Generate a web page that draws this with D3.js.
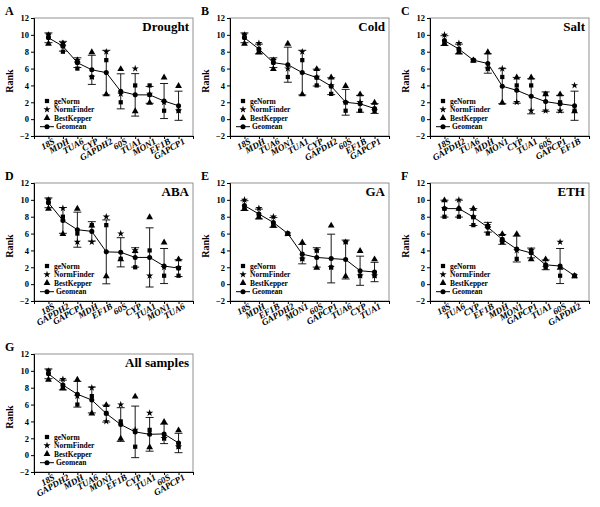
<!DOCTYPE html>
<html>
<head>
<meta charset="utf-8">
<script src="https://cdn.jsdelivr.net/npm/d3@7"></script>
<style>
  body { margin: 0; background: #fff; }
  svg { display: block; }
  text { font-family: "Liberation Serif", "Times New Roman", serif; font-weight: bold; fill: #000; }
</style>
</head>
<body>
<div id="chart"></div>
<script>
// rank values (10 = most stable)
const droughtGenes = ["18S", "MDH", "TUA6", "CYP", "GAPDH2", "60S", "TUA1", "MON1", "EF1B", "GAPCP1"];
const droughtGeNorm = [10, 8, 6, 5, 7, 2, 4, 4, 1, 1];
const droughtNormFinder = [10, 9, 7, 5, 8, 3, 6, 3, 2, 1];
const droughtBestKeeper = [9, 9, 7, 8, 3, 6, 1, 2, 5, 4];
const droughtGeomean = [9.65, 8.65, 6.7, 5.85, 5.52, 3.3, 2.88, 2.88, 2.15, 1.59];
const droughtSD = [0.58, 0.58, 0.58, 1.73, 2.65, 2.08, 2.52, 1.0, 2.08, 1.73];

const coldGenes = ["18S", "MDH", "TUA6", "MON1", "TUA1", "CYP", "GAPDH2", "60S", "EF1B", "GAPCP1"];
const coldGeNorm = [10, 8, 7, 5, 7, 4, 3, 1, 1, 1];
const coldNormFinder = [10, 9, 7, 6, 8, 5, 4, 2, 2, 1];
const coldBestKeeper = [9, 8, 6, 9, 3, 6, 5, 4, 3, 2];
const coldGeomean = [9.65, 8.32, 6.7, 6.46, 5.52, 4.93, 3.91, 2.0, 1.82, 1.26];
const coldSD = [0.58, 0.58, 0.58, 2.08, 2.65, 1.0, 1.0, 1.53, 1.0, 0.58];

const saltGenes = ["18S", "GAPDH2", "TUA6", "MDH", "MON1", "CYP", "TUA1", "60S", "GAPCP1", "EF1B"];
const saltGeNorm = [9, 8, 7, 6, 5, 4, 4, 3, 2, 1];
const saltNormFinder = [10, 9, 7, 6, 6, 2, 1, 1, 1, 4];
const saltBestKeeper = [9, 8, 7, 8, 2, 5, 5, 3, 3, 1];
const saltGeomean = [9.32, 8.32, 7.0, 6.6, 3.91, 3.42, 2.71, 2.08, 1.82, 1.59];
const saltSD = [0.58, 0.58, 0, 1.15, 2.08, 1.53, 2.08, 1.15, 1.0, 1.73];

const abaGenes = ["18S", "GAPDH2", "GAPCP1", "MDH", "EF1B", "60S", "CYP", "TUA1", "MON1", "TUA6"];
const abaGeNorm = [10, 8, 6, 7, 7, 3, 2, 4, 1, 1];
const abaNormFinder = [10, 9, 5, 5, 8, 6, 4, 1, 2, 2];
const abaBestKeeper = [9, 6, 9, 7, 1, 3, 4, 8, 5, 3];
const abaGeomean = [9.65, 7.56, 6.46, 6.26, 3.83, 3.78, 3.17, 3.17, 2.15, 1.9];
const abaSD = [0.58, 1.53, 2.08, 1.15, 3.79, 1.73, 1.15, 3.51, 2.08, 1.0];

const gaGenes = ["18S", "MDH", "EF1B", "GAPDH2", "MON1", "60S", "GAPCP1", "TUA6", "CYP", "TUA1"];
const gaGeNorm = [9, 8, 7, 6, 3, 4, 2, 5, 1, 1];
const gaNormFinder = [10, 9, 8, 6, 3, 4, 2, 5, 1, 1];
const gaBestKeeper = [9, 8, 7, 6, 5, 2, 7, 1, 4, 3];
const gaGeomean = [9.32, 8.32, 7.32, 6.0, 3.56, 3.17, 3.04, 2.92, 1.59, 1.44];
const gaSD = [0.58, 0.58, 0.58, 0, 1.15, 1.15, 2.89, 2.31, 1.73, 1.15];

const ethGenes = ["18S", "TUA6", "CYP", "EF1B", "MDH", "MON1", "GAPCP1", "TUA1", "60S", "GAPDH2"];
const ethGeNorm = [8, 8, 7, 6, 5, 3, 4, 2, 1, 1];
const ethNormFinder = [9, 10, 8, 7, 5, 4, 4, 2, 5, 1];
const ethBestKeeper = [10, 9, 9, 7, 6, 6, 3, 3, 2, 1];
const ethGeomean = [8.96, 8.96, 7.96, 6.75, 5.31, 4.16, 3.7, 2.29, 2.15, 1.0];
const ethSD = [1.0, 1.0, 1.0, 0.58, 0.58, 1.53, 0.58, 0.58, 2.08, 0];

const allGenes = ["18S", "GAPDH2", "MDH", "TUA6", "MON1", "EF1B", "CYP", "TUA1", "60S", "GAPCP1"];
const allGeNorm = [10, 8, 6, 7, 5, 4, 1, 3, 2, 1];
const allNormFinder = [10, 9, 7, 8, 4, 6, 3, 5, 2, 1];
const allBestKeeper = [9, 8, 9, 5, 6, 2, 7, 1, 4, 3];
const allGeomean = [9.65, 8.32, 7.23, 6.54, 4.93, 3.63, 2.76, 2.47, 2.52, 1.44];
const allSD = [0.58, 0.58, 1.53, 1.53, 1.0, 2.0, 3.06, 2.0, 1.15, 1.15];

const yTicks = [-2, 0, 2, 4, 6, 8, 10, 12];
const legendLabels = ["geNorm", "NormFinder", "BestKepper", "Geomean"];

const panels = [
  { letter: "A", title: "Drought", genes: droughtGenes, gn: droughtGeNorm, nf: droughtNormFinder, bk: droughtBestKeeper, gm: droughtGeomean, sd: droughtSD, ox: 0, oy: 0 },
  { letter: "B", title: "Cold", genes: coldGenes, gn: coldGeNorm, nf: coldNormFinder, bk: coldBestKeeper, gm: coldGeomean, sd: coldSD, ox: 196, oy: 0 },
  { letter: "C", title: "Salt", genes: saltGenes, gn: saltGeNorm, nf: saltNormFinder, bk: saltBestKeeper, gm: saltGeomean, sd: saltSD, ox: 396, oy: 0 },
  { letter: "D", title: "ABA", genes: abaGenes, gn: abaGeNorm, nf: abaNormFinder, bk: abaBestKeeper, gm: abaGeomean, sd: abaSD, ox: 0, oy: 165 },
  { letter: "E", title: "GA", genes: gaGenes, gn: gaGeNorm, nf: gaNormFinder, bk: gaBestKeeper, gm: gaGeomean, sd: gaSD, ox: 196, oy: 165 },
  { letter: "F", title: "ETH", genes: ethGenes, gn: ethGeNorm, nf: ethNormFinder, bk: ethBestKeeper, gm: ethGeomean, sd: ethSD, ox: 396, oy: 165 },
  { letter: "G", title: "All samples", genes: allGenes, gn: allGeNorm, nf: allNormFinder, bk: allBestKeeper, gm: allGeomean, sd: allSD, ox: 0, oy: 336 }
];

const svg = d3.select("#chart").append("svg")
  .attr("width", 600)
  .attr("height", 507);

// same frame in every panel
const plotLeft = 34, plotRight = 193, plotTop = 18, plotBottom = 136;
const x = d3.scaleLinear().domain([0, 11]).range([plotLeft, plotRight]);
const y = d3.scaleLinear().domain([-2, 12]).range([plotBottom, plotTop]);

const square = d3.symbol().type(d3.symbolSquare).size(18);
const star = d3.symbol().type(d3.symbolStar).size(16);
const triangle = d3.symbol().type(d3.symbolTriangle).size(20);
const dot = d3.symbol().type(d3.symbolCircle).size(20);

function drawPanel(p) {
  const g = svg.append("g").attr("transform", `translate(${p.ox},${p.oy})`);

  // frame (top / right lighter)
  g.append("rect")
    .attr("x", plotLeft).attr("y", plotTop)
    .attr("width", plotRight - plotLeft).attr("height", plotBottom - plotTop)
    .attr("fill", "none").attr("stroke", "#777").attr("stroke-width", 0.8);

  const yAxis = g.append("g")
    .attr("transform", `translate(${plotLeft},0)`)
    .call(d3.axisLeft(y).tickValues(yTicks).tickSize(3).tickPadding(2));
  yAxis.select(".domain").attr("stroke-width", 1);
  yAxis.selectAll("text").style("font-size", "8.5px").style("font-family", "Liberation Serif");

  const xAxis = g.append("g")
    .attr("transform", `translate(0,${plotBottom})`)
    .call(d3.axisBottom(x).tickValues(d3.range(0, 12)).tickSize(3).tickFormat(""));
  xAxis.select(".domain").attr("stroke-width", 1);

  // rotated gene labels
  g.append("g").selectAll("text")
    .data(p.genes)
    .join("text")
    .attr("transform", (d, i) => `translate(${x(i + 1) + 7},${plotBottom + 7}) rotate(-30)`)
    .attr("text-anchor", "end")
    .style("font-size", "9px")
    .style("font-style", "italic")
    .text(d => d);

  g.append("text")
    .attr("transform", `translate(13,${(plotTop + plotBottom) / 2 + 4}) rotate(-90)`)
    .attr("text-anchor", "middle")
    .style("font-size", "10px")
    .text("Rank");

  g.append("text")
    .attr("x", 5).attr("y", 15)
    .style("font-size", "12px")
    .text(p.letter);

  g.append("text")
    .attr("x", plotRight - 4).attr("y", 31)
    .attr("text-anchor", "end")
    .style("font-size", "13px")
    .text(p.title);

  const idx = d3.range(p.genes.length);

  // method ranks
  g.append("g").selectAll("path")
    .data(idx).join("path")
    .attr("d", square)
    .attr("transform", i => `translate(${x(i + 1)},${y(p.gn[i])})`);
  g.append("g").selectAll("path")
    .data(idx).join("path")
    .attr("d", star)
    .attr("transform", i => `translate(${x(i + 1)},${y(p.nf[i])})`);
  g.append("g").selectAll("path")
    .data(idx).join("path")
    .attr("d", triangle)
    .attr("transform", i => `translate(${x(i + 1)},${y(p.bk[i]) + 0.5})`);

  // error bars
  const eb = g.append("g").attr("stroke", "#000").attr("stroke-width", 0.9);
  idx.filter(i => p.sd[i] > 0).forEach(i => {
    const cx = x(i + 1), lo = y(p.gm[i] - p.sd[i]), hi = y(p.gm[i] + p.sd[i]);
    eb.append("line").attr("x1", cx).attr("x2", cx).attr("y1", lo).attr("y2", hi);
    eb.append("line").attr("x1", cx - 4).attr("x2", cx + 4).attr("y1", lo).attr("y2", lo);
    eb.append("line").attr("x1", cx - 4).attr("x2", cx + 4).attr("y1", hi).attr("y2", hi);
  });

  // geomean line
  g.append("path")
    .datum(idx)
    .attr("fill", "none").attr("stroke", "#000").attr("stroke-width", 1)
    .attr("d", d3.line().x(i => x(i + 1)).y(i => y(p.gm[i])));
  g.append("g").selectAll("path")
    .data(idx).join("path")
    .attr("d", dot)
    .attr("transform", i => `translate(${x(i + 1)},${y(p.gm[i])})`);

  // legend
  const lg = g.append("g");
  const rows = [101, 109.5, 118, 126.7];
  const shapes = [square, star, triangle];
  legendLabels.forEach((lab, k) => {
    if (k < 3) {
      lg.append("path").attr("d", shapes[k]).attr("transform", `translate(47,${rows[k]})`);
      lg.append("text").attr("x", 54).attr("y", rows[k] + 2.5).style("font-size", "7.5px").text(lab);
    } else {
      lg.append("line").attr("x1", 40).attr("x2", 54).attr("y1", rows[k]).attr("y2", rows[k]).attr("stroke", "#000");
      lg.append("path").attr("d", dot).attr("transform", `translate(47,${rows[k]})`);
      lg.append("text").attr("x", 56).attr("y", rows[k] + 2.5).style("font-size", "7.5px").text(lab);
    }
  });
}

panels.forEach(drawPanel);
</script>
</body>
</html>
